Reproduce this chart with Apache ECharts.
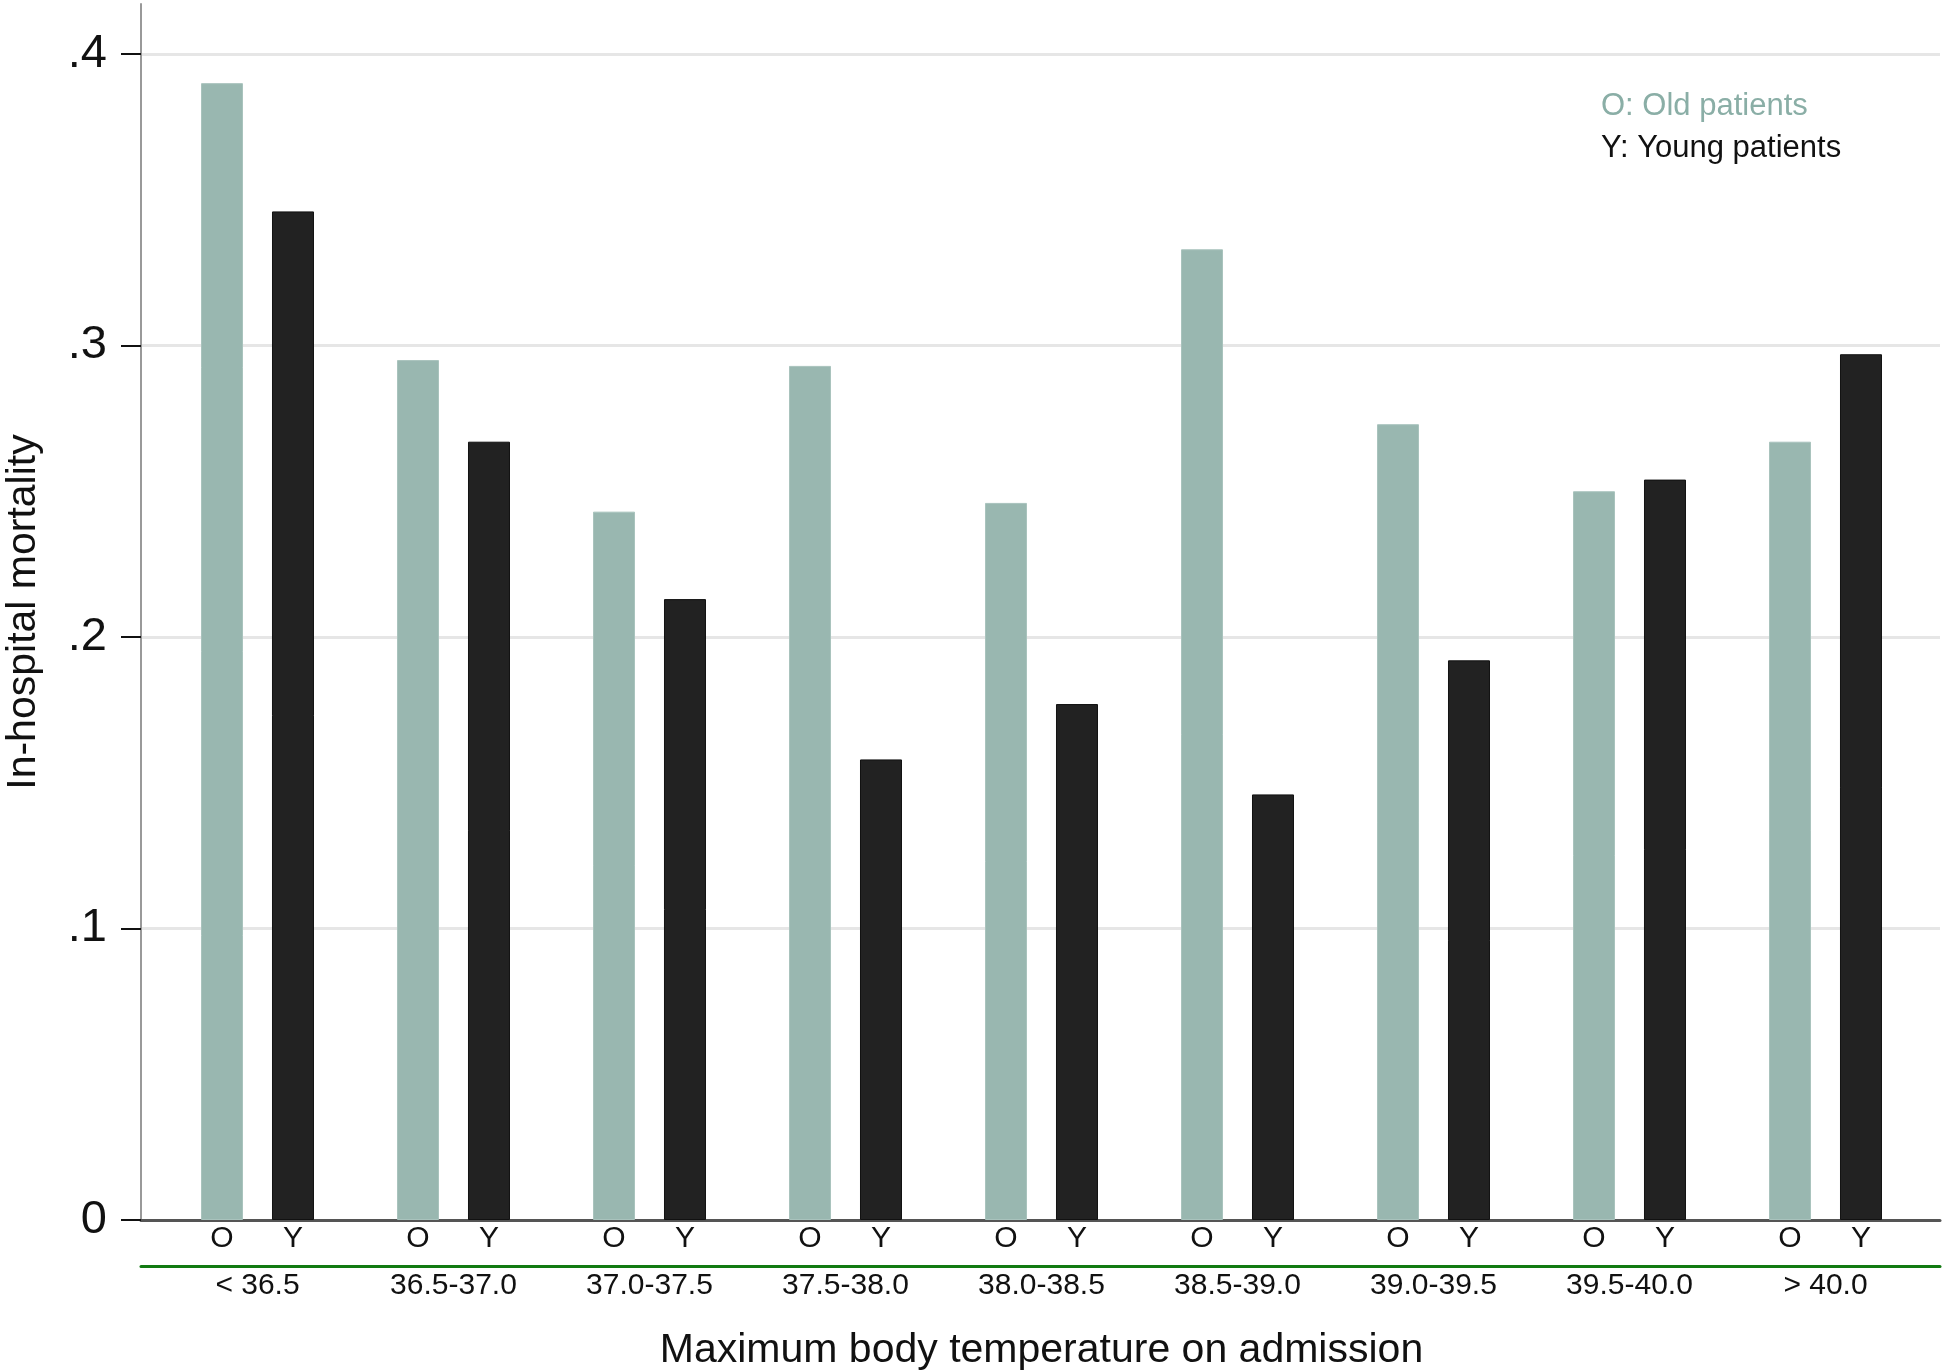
<!DOCTYPE html>
<html>
<head>
<meta charset="utf-8">
<title>In-hospital mortality by maximum body temperature</title>
<script src="https://cdn.jsdelivr.net/npm/echarts@6.0.0/dist/echarts.min.js"></script>
<style>
  html, body { margin: 0; padding: 0; background: #fff; }
  #chart { width: 1946px; height: 1372px; }
</style>
</head>
<body>
<div id="chart"></div>
<script>
// temperature groups on admission
let categories = ['< 36.5', '36.5-37.0', '37.0-37.5', '37.5-38.0', '38.0-38.5', '38.5-39.0', '39.0-39.5', '39.5-40.0', '> 40.0']
// in-hospital mortality, old patients (O)
let oldValues = [0.390, 0.295, 0.243, 0.293, 0.246, 0.333, 0.273, 0.250, 0.267]
// in-hospital mortality, young patients (Y)
let youngValues = [0.346, 0.267, 0.213, 0.158, 0.177, 0.146, 0.192, 0.254, 0.297]
let yTickLabels = ['0', '.1', '.2', '.3', '.4']

let font = 'Liberation Sans, Arial, sans-serif'
let oldColor = '#99b7b0'
let youngColor = '#222222'

let myChart = echarts.init(document.getElementById('chart'))
myChart.setOption({
  animation: false,
  textStyle: { fontFamily: font },
  grid: [
    // frame: full-height y axis line, x axis line, green rule
    { left: 141, right: 6, top: 4, bottom: 152, outerBoundsMode: 'none' },
    // y ticks, labels and grid lines
    { left: 141, right: 6, top: 54, bottom: 152, outerBoundsMode: 'none' },
    // bars
    { left: 159.5, right: 22.5, top: 54, bottom: 152, outerBoundsMode: 'none' }
  ],
  legend: {
    orient: 'vertical',
    left: 1590,
    top: 86,
    itemWidth: 0,
    itemHeight: 0,
    itemGap: 11,
    selectedMode: false,
    textStyle: { fontSize: 31, fontFamily: font },
    data: [
      { name: 'O: Old patients', textStyle: { color: '#8aaea6' } },
      { name: 'Y: Young patients', textStyle: { color: '#111' } }
    ]
  },
  xAxis: [
    {
      gridIndex: 0,
      type: 'value',
      min: 0,
      max: 1,
      axisLine: { show: true, lineStyle: { color: '#555', width: 3 } },
      axisTick: { show: false },
      axisLabel: { show: false },
      splitLine: { show: false }
    },
    {
      gridIndex: 0,
      type: 'value',
      min: 0,
      max: 1,
      position: 'bottom',
      offset: 46,
      axisLine: { show: true, lineStyle: { color: '#127a12', width: 3 } },
      axisTick: { show: false },
      axisLabel: { show: false },
      splitLine: { show: false }
    },
    {
      gridIndex: 1,
      type: 'value',
      show: false
    },
    {
      gridIndex: 2,
      type: 'category',
      data: categories,
      axisLine: { show: false },
      axisTick: { show: false },
      axisLabel: { margin: 51, fontSize: 30, color: '#111', interval: 0 },
      name: 'Maximum body temperature on admission',
      nameLocation: 'middle',
      nameGap: 110,
      nameTextStyle: { fontSize: 41, color: '#111' }
    }
  ],
  yAxis: [
    {
      gridIndex: 0,
      type: 'value',
      axisLine: { show: true, lineStyle: { color: '#999', width: 2 } },
      axisTick: { show: false },
      axisLabel: { show: false },
      splitLine: { show: false },
      name: 'In-hospital mortality',
      nameLocation: 'middle',
      nameGap: 97,
      nameTextStyle: { fontSize: 41, color: '#111' }
    },
    {
      gridIndex: 1,
      type: 'value',
      min: 0,
      max: 0.4,
      interval: 0.1,
      axisLine: { show: false },
      axisTick: { show: true, length: 20, lineStyle: { color: '#111', width: 2 } },
      axisLabel: {
        margin: 34,
        fontSize: 47,
        color: '#111',
        formatter: function (v) {
          return yTickLabels[Math.round(v * 10)]
        }
      },
      splitLine: { show: true, lineStyle: { color: '#e6e6e6', width: 3 } }
    },
    {
      gridIndex: 2,
      type: 'value',
      min: 0,
      max: 0.4,
      show: false
    }
  ],
  series: [
    {
      name: 'O: Old patients',
      type: 'bar',
      xAxisIndex: 3,
      yAxisIndex: 2,
      data: oldValues,
      barWidth: 42,
      barGap: '69%',
      itemStyle: { color: oldColor, borderColor: '#a9c3bd', borderWidth: 1 },
      label: { show: true, position: 'bottom', distance: 4, formatter: 'O', fontSize: 30, color: '#111' }
    },
    {
      name: 'Y: Young patients',
      type: 'bar',
      xAxisIndex: 3,
      yAxisIndex: 2,
      data: youngValues,
      barWidth: 42,
      barGap: '69%',
      itemStyle: { color: youngColor, borderColor: '#111', borderWidth: 1 },
      label: { show: true, position: 'bottom', distance: 4, formatter: 'Y', fontSize: 30, color: '#111' }
    }
  ]
})
window.addEventListener('resize', function () {
  myChart.resize()
})
</script>
</body>
</html>
